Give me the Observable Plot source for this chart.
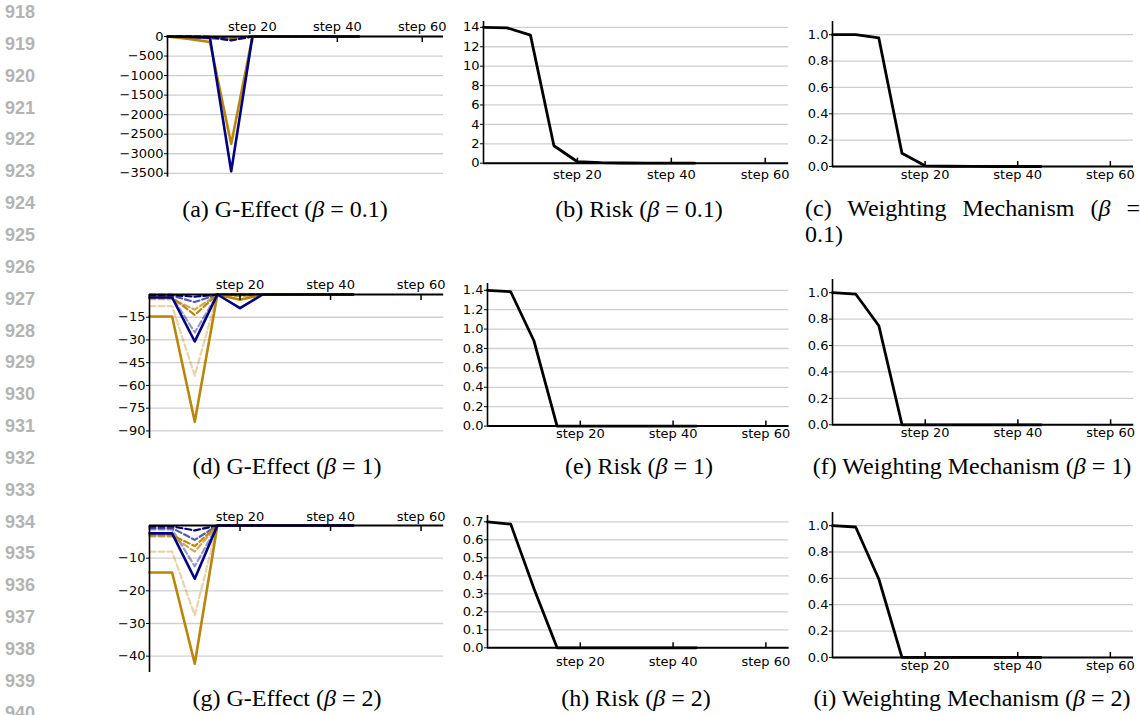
<!DOCTYPE html>
<html>
<head>
<meta charset="utf-8">
<script src="https://cdn.jsdelivr.net/npm/d3@7"></script>
<script src="https://cdn.jsdelivr.net/npm/@observablehq/plot@0.6"></script>
<style>
  body { margin: 0; background: #fff; }
  #root { position: relative; width: 1140px; height: 715px; overflow: hidden; background: #fff; }
  #root svg { position: absolute; }
  .cap { position: absolute; font-family: "Liberation Serif", "Times New Roman", serif; font-size: 24px; line-height: 26px; color: #000; white-space: nowrap; text-align: center; }
  .capj { white-space: normal; text-align: justify; }
  .ln { position: absolute; left: 5px; font-family: "Liberation Sans", Arial, sans-serif; font-weight: bold; font-size: 18px; line-height: 20px; color: #b3b3b3; }
</style>
</head>
<body>
<div id="root"></div>
<script>
// ---------- data ----------
const steps = [0, 5, 10, 15, 20, 25, 30, 35, 40, 45];
const stepTicks = [20, 40, 60];
const lineNumbers = ["918","919","920","921","922","923","924","925","926","927","928","929","930","931","932","933","934","935","936","937","938","939","940"];

// G-Effect series names (drawing order)
const gSeriesNames = ["gold dashed light", "navy dashed light", "gold dashed mid", "navy dashed mid", "gold dashed", "navy dashed", "gold solid", "navy solid"];

// (a) G-Effect beta = 0.1
const aGoldLight = [0, -5, -15, -30, 0, 0, 0, 0, 0, 0];
const aNavyLight = [0, -2, -5, -30, 0, 0, 0, 0, 0, 0];
const aGoldMid   = [0, -10, -25, -40, 0, 0, 0, 0, 0, 0];
const aNavyMid   = [0, -3, -10, -60, 0, 0, 0, 0, 0, 0];
const aGoldDash  = [0, -20, -50, -80, 0, 0, 0, 0, 0, 0];
const aNavyDash  = [0, -5, -15, -100, 0, 0, 0, 0, 0, 0];
const aGoldSolid = [0, -60, -140, -2750, 0, 0, 0, 0, 0, 0];
const aNavySolid = [0, -10, -30, -3450, 0, 0, 0, 0, 0, 0];
const aTicks = [0, -500, -1000, -1500, -2000, -2500, -3000, -3500];

// (d) G-Effect beta = 1
const dGoldLight = [-7.7, -7.7, -53.5, 0, 0, 0, 0, 0, 0, 0];
const dNavyLight = [-1.5, -1.5, -25, 0, 0, 0, 0, 0, 0, 0];
const dGoldMid   = [-3, -3, -10, 0, 0, 0, 0, 0, 0, 0];
const dNavyMid   = [-0.8, -0.8, -5, 0, 0, 0, 0, 0, 0, 0];
const dGoldDash  = [-2, -2, -13.5, 0, -1, 0, 0, 0, 0, 0];
const dNavyDash  = [-0.3, -0.3, -1.5, 0, 0, 0, 0, 0, 0, 0];
const dGoldSolid = [-14.5, -14.5, -84, 0, -3.5, 0, 0, 0, 0, 0];
const dNavySolid = [-2, -2, -31, 0, -9, 0, 0, 0, 0, 0];
const dTicks = [-15, -30, -45, -60, -75, -90];

// (g) G-Effect beta = 2
const gGoldLight = [-8, -8, -27.5, 0, 0, 0, 0, 0, 0, 0];
const gNavyLight = [-1.2, -1.2, -12.5, 0, 0, 0, 0, 0, 0, 0];
const gGoldMid   = [-3.3, -3.3, -8, 0, 0, 0, 0, 0, 0, 0];
const gNavyMid   = [-0.8, -0.8, -4.4, 0, 0, 0, 0, 0, 0, 0];
const gGoldDash  = [-3, -3, -6.3, 0, 0, 0, 0, 0, 0, 0];
const gNavyDash  = [-0.3, -0.3, -1.5, 0, 0, 0, 0, 0, 0, 0];
const gGoldSolid = [-14.4, -14.4, -42.3, 0, 0, 0, 0, 0, 0, 0];
const gNavySolid = [-2.4, -2.4, -16.3, 0, 0, 0, 0, 0, 0, 0];
const gTicks = [-10, -20, -30, -40];

// Risk and weighting mechanism
const bRisk   = [14.0, 13.95, 13.2, 1.8, 0.15, 0.05, 0.02, 0.01, 0, 0];
const bTicks  = [0, 2, 4, 6, 8, 10, 12, 14];
const cWeight = [1.0, 1.0, 0.975, 0.10, 0.005, 0.002, 0.001, 0, 0, 0];
const cTicks  = [0, 0.2, 0.4, 0.6, 0.8, 1.0];
const eRisk   = [1.40, 1.385, 0.88, 0, 0, 0, 0, 0, 0, 0];
const eTicks  = [0, 0.2, 0.4, 0.6, 0.8, 1.0, 1.2, 1.4];
const fWeight = [1.0, 0.99, 0.75, 0, 0, 0, 0, 0, 0, 0];
const fTicks  = [0, 0.2, 0.4, 0.6, 0.8, 1.0];
const hRisk   = [0.70, 0.687, 0.33, 0, 0, 0, 0, 0, 0, 0];
const hTicks  = [0, 0.1, 0.2, 0.3, 0.4, 0.5, 0.6, 0.7];
const iWeight = [1.0, 0.99, 0.595, 0, 0, 0, 0, 0, 0, 0];
const iTicks  = [0, 0.2, 0.4, 0.6, 0.8, 1.0];

// ---------- styles ----------
const GOLD = "#B8860B", NAVY = "#000080";
const gStyles = [
  {color: GOLD, opacity: 0.35, width: 2.2, dash: "6,3"},
  {color: NAVY, opacity: 0.4, width: 2.2, dash: "6,3"},
  {color: GOLD, opacity: 0.7, width: 2.2, dash: "6,3"},
  {color: NAVY, opacity: 0.65, width: 2.2, dash: "6,3"},
  {color: GOLD, opacity: 1, width: 2.2, dash: "6,3"},
  {color: NAVY, opacity: 1, width: 2.2, dash: "6,3"},
  {color: GOLD, opacity: 1, width: 2.6, dash: null},
  {color: NAVY, opacity: 1, width: 2.6, dash: null}
];

const root = document.getElementById("root");
const M = {l: 58, r: 8, t: 26, b: 28};
const baseStyle = {fontFamily: "DejaVu Sans, sans-serif", fontSize: "13px", color: "black", background: "transparent", overflow: "visible"};

function place(svg, box) {
  svg.style.left = (box.x0 - M.l) + "px";
  svg.style.top = (box.y0 - M.t) + "px";
  root.appendChild(svg);
}

function axes(yTicks, yFmt, anchor, labelPad) {
  return [
    Plot.axisY(yTicks, {tickSize: 3, tickPadding: 1, tickFormat: yFmt, fontSize: 13, label: null}),
    Plot.axisX(stepTicks, {anchor, tickSize: 5, dy: anchor === "top" ? 5 : -5, tickFormat: () => "", strokeWidth: 1.5, label: null}),
    Plot.axisX(stepTicks, {anchor, tickSize: 0, tickPadding: labelPad, tickFormat: d => `step ${d}`, fontSize: 13, label: null})
  ];
}

function gPanel(seriesVals, box, yTicks, yDomain, labelPad) {
  const w = box.x1 - box.x0, h = box.y1 - box.y0;
  const lines = gSeriesNames.map((name, i) => {
    const rows = steps.map((s, j) => ({step: s, value: seriesVals[i][j]}));
    const st = gStyles[i];
    return Plot.lineY(rows, {x: "step", y: "value", stroke: st.color, strokeOpacity: st.opacity, strokeWidth: st.width, strokeDasharray: st.dash});
  });
  const svg = Plot.plot({
    width: w + M.l + M.r, height: h + M.t + M.b,
    marginLeft: M.l, marginRight: M.r, marginTop: M.t, marginBottom: M.b,
    x: {domain: [0, 65], label: null}, y: {domain: yDomain, label: null},
    style: baseStyle,
    marks: [
      Plot.gridY(yTicks, {stroke: "#cfcfcf", strokeOpacity: 1, strokeWidth: 1.3}),
      ...lines,
      Plot.ruleX([0], {stroke: "black", strokeWidth: 1.6}),
      Plot.ruleY([0], {stroke: "black", strokeWidth: 2}),
      ...axes(yTicks, d3.format("d"), "top", labelPad)
    ]
  });
  place(svg, box);
}

function rPanel(vals, box, yTicks, yDomain, yFmt, labelPad) {
  const w = box.x1 - box.x0, h = box.y1 - box.y0;
  const rows = steps.map((s, j) => ({step: s, value: vals[j]}));
  const svg = Plot.plot({
    width: w + M.l + M.r, height: h + M.t + M.b,
    marginLeft: M.l, marginRight: M.r, marginTop: M.t, marginBottom: M.b,
    x: {domain: [0, 65], label: null}, y: {domain: yDomain, label: null},
    style: baseStyle,
    marks: [
      Plot.gridY(yTicks, {stroke: "#cfcfcf", strokeOpacity: 1, strokeWidth: 1.3}),
      Plot.ruleX([0], {stroke: "black", strokeWidth: 1.6}),
      Plot.ruleY([0], {stroke: "black", strokeWidth: 2}),
      Plot.lineY(rows, {x: "step", y: "value", stroke: "black", strokeWidth: 2.8}),
      ...axes(yTicks, d3.format(yFmt), "bottom", labelPad)
    ]
  });
  place(svg, box);
}

// ---------- panels ----------
gPanel([aGoldLight, aNavyLight, aGoldMid, aNavyMid, aGoldDash, aNavyDash, aGoldSolid, aNavySolid],
  {x0: 166.5, x1: 442.5, y0: 36, y1: 176.7}, aTicks, [-3600, 0], 5);
gPanel([dGoldLight, dNavyLight, dGoldMid, dNavyMid, dGoldDash, dNavyDash, dGoldSolid, dNavySolid],
  {x0: 149.3, x1: 443.5, y0: 294, y1: 438}, dTicks, [-95, 0], 5);
gPanel([gGoldLight, gNavyLight, gGoldMid, gNavyMid, gGoldDash, gNavyDash, gGoldSolid, gNavySolid],
  {x0: 149.3, x1: 443.5, y0: 525, y1: 672}, gTicks, [-45, 0], 4);

rPanel(bRisk,   {x0: 483.3, x1: 788.5, y0: 21,    y1: 162.7}, bTicks, [0, 14.6], "d", 7);
rPanel(cWeight, {x0: 832,   x1: 1133,  y0: 21,    y1: 166},   cTicks, [0, 1.1], ".1f", 3);
rPanel(eRisk,   {x0: 486.7, x1: 788.3, y0: 283.4, y1: 426},   eTicks, [0, 1.47], ".1f", 3);
rPanel(fWeight, {x0: 831.7, x1: 1133,  y0: 279,   y1: 424.3}, fTicks, [0, 1.1], ".1f", 3);
rPanel(hRisk,   {x0: 486.7, x1: 788.3, y0: 515.4, y1: 647.7}, hTicks, [0, 0.735], ".1f", 9);
rPanel(iWeight, {x0: 832,   x1: 1133,  y0: 511.8, y1: 656.7}, iTicks, [0, 1.1], ".1f", 3);

// ---------- captions ----------
const captions = [
  {html: "(a) G-Effect (<i>β</i> = 0.1)", cx: 285, top: 196},
  {html: "(b) Risk (<i>β</i> = 0.1)", cx: 639, top: 196},
  {html: "(d) G-Effect (<i>β</i> = 1)", cx: 287, top: 453},
  {html: "(e) Risk (<i>β</i> = 1)", cx: 639, top: 453},
  {html: "(f) Weighting Mechanism (<i>β</i> = 1)", cx: 972, top: 453},
  {html: "(g) G-Effect (<i>β</i> = 2)", cx: 287, top: 685},
  {html: "(h) Risk (<i>β</i> = 2)", cx: 636, top: 685},
  {html: "(i) Weighting Mechanism (<i>β</i> = 2)", cx: 972, top: 685}
];
captions.forEach(c => {
  const d = document.createElement("div");
  d.className = "cap";
  d.innerHTML = c.html;
  d.style.left = (c.cx - 200) + "px";
  d.style.width = "400px";
  d.style.top = c.top + "px";
  root.appendChild(d);
});
const cc = document.createElement("div");
cc.className = "cap capj";
cc.innerHTML = "(c) Weighting Mechanism (<i>β</i> = 0.1)";
cc.style.left = "805px";
cc.style.width = "335px";
cc.style.top = "195px";
root.appendChild(cc);

// ---------- line numbers ----------
lineNumbers.forEach((n, k) => {
  const d = document.createElement("div");
  d.className = "ln";
  d.textContent = n;
  d.style.top = (12 + k * 31.85 - 10) + "px";
  root.appendChild(d);
});
</script>
</body>
</html>
